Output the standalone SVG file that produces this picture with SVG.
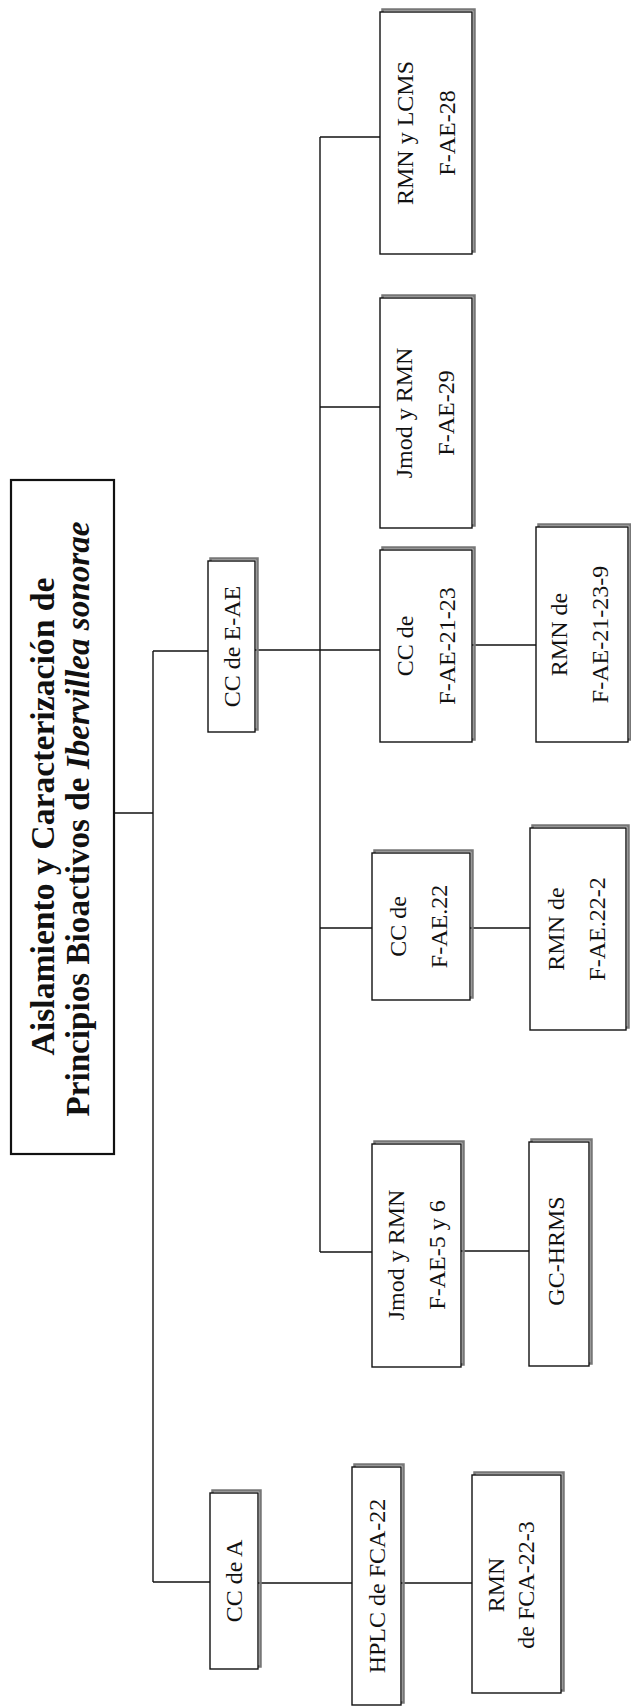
<svg xmlns="http://www.w3.org/2000/svg" width="631" height="1708" viewBox="0 0 631 1708">
<style>
.bg{fill:#fff}
.sh{fill:none;stroke:#777;stroke-width:2.5}
.bx{fill:#fff;stroke:#111;stroke-width:1.4}
.tb{fill:#fff;stroke:#111;stroke-width:2.2}
.ln{fill:none;stroke:#111;stroke-width:1.4}
.t{font-family:"Liberation Serif","Times New Roman",serif;font-size:24px;fill:#111;text-anchor:middle}
.tt{font-family:"Liberation Serif","Times New Roman",serif;font-size:33.5px;font-weight:bold;fill:#111;text-anchor:middle}
</style>
<rect class="bg" x="0" y="0" width="631" height="1708"/>
<g id="connectors">
<path class="ln" d="M113,813 H153"/>
<path class="ln" d="M153,651 V1582"/>
<path class="ln" d="M153,651 H208"/>
<path class="ln" d="M153,1582 H210"/>
<path class="ln" d="M255,650 H380"/>
<path class="ln" d="M320,137 V1252"/>
<path class="ln" d="M320,137 H380"/>
<path class="ln" d="M320,407 H380"/>
<path class="ln" d="M320,928 H372"/>
<path class="ln" d="M320,1252 H372"/>
<path class="ln" d="M472,645 H536"/>
<path class="ln" d="M470,928 H530"/>
<path class="ln" d="M461,1251 H529"/>
<path class="ln" d="M258,1583 H352"/>
<path class="ln" d="M401,1583 H472"/>
</g>
<g id="title">
<rect class="tb" x="11" y="480" width="103" height="674"/>
<text class="tt" transform="translate(53.5,816.5) rotate(-90)" textLength="478" lengthAdjust="spacingAndGlyphs">Aislamiento y Caracterización de</text>
<text class="tt" transform="translate(89,819) rotate(-90)" textLength="595" lengthAdjust="spacingAndGlyphs">Principios Bioactivos de <tspan font-style="italic">Ibervillea sonorae</tspan></text>
</g>
<g id="cc-eae">
<rect class="sh" x="210.5" y="558.5" width="47" height="171"/>
<rect class="bx" x="208" y="561" width="47" height="171"/>
<text class="t" transform="translate(239.5,646.5) rotate(-90)">CC de E-AE</text>
</g>
<g id="cc-a">
<rect class="sh" x="212.5" y="1490.5" width="48" height="176"/>
<rect class="bx" x="210" y="1493" width="48" height="176"/>
<text class="t" transform="translate(242,1581) rotate(-90)">CC de A</text>
</g>
<g id="hplc">
<rect class="sh" x="354.5" y="1464.5" width="49" height="238"/>
<rect class="bx" x="352" y="1467" width="49" height="238"/>
<text class="t" transform="translate(384.5,1586) rotate(-90)">HPLC de FCA-22</text>
</g>
<g id="rmn-fca">
<rect class="sh" x="474.5" y="1472.5" width="89" height="218"/>
<rect class="bx" x="472" y="1475" width="89" height="218"/>
<text class="t" transform="translate(504,1585) rotate(-90)">RMN</text>
<text class="t" transform="translate(534,1585) rotate(-90)">de FCA-22-3</text>
</g>
<g id="rmn-lcms">
<rect class="sh" x="382.5" y="9.5" width="92" height="242"/>
<rect class="bx" x="380" y="12" width="92" height="242"/>
<text class="t" transform="translate(413,133) rotate(-90)">RMN y LCMS</text>
<text class="t" transform="translate(455,133) rotate(-90)">F-AE-28</text>
</g>
<g id="jmod-29">
<rect class="sh" x="382.5" y="295.5" width="92" height="230"/>
<rect class="bx" x="380" y="298" width="92" height="230"/>
<text class="t" transform="translate(412,413) rotate(-90)">Jmod y RMN</text>
<text class="t" transform="translate(454,413) rotate(-90)">F-AE-29</text>
</g>
<g id="cc-21-23">
<rect class="sh" x="382.5" y="547.5" width="92" height="192"/>
<rect class="bx" x="380" y="550" width="92" height="192"/>
<text class="t" transform="translate(413,646) rotate(-90)">CC de</text>
<text class="t" transform="translate(455,646) rotate(-90)">F-AE-21-23</text>
</g>
<g id="rmn-21-23-9">
<rect class="sh" x="538.5" y="524.5" width="92" height="215"/>
<rect class="bx" x="536" y="527" width="92" height="215"/>
<text class="t" transform="translate(567,634.5) rotate(-90)">RMN de</text>
<text class="t" transform="translate(608,634.5) rotate(-90)">F-AE-21-23-9</text>
</g>
<g id="cc-22">
<rect class="sh" x="374.5" y="850.5" width="98" height="147"/>
<rect class="bx" x="372" y="853" width="98" height="147"/>
<text class="t" transform="translate(406,926.5) rotate(-90)">CC de</text>
<text class="t" transform="translate(447,926.5) rotate(-90)">F-AE.22</text>
</g>
<g id="rmn-22-2">
<rect class="sh" x="532.5" y="825.5" width="96" height="202"/>
<rect class="bx" x="530" y="828" width="96" height="202"/>
<text class="t" transform="translate(564,929) rotate(-90)">RMN de</text>
<text class="t" transform="translate(605,929) rotate(-90)">F-AE.22-2</text>
</g>
<g id="jmod-5-6">
<rect class="sh" x="374.5" y="1141.5" width="89" height="223"/>
<rect class="bx" x="372" y="1144" width="89" height="223"/>
<text class="t" transform="translate(404,1255) rotate(-90)">Jmod y RMN</text>
<text class="t" transform="translate(445,1255) rotate(-90)">F-AE-5 y 6</text>
</g>
<g id="gc-hrms">
<rect class="sh" x="531.5" y="1139.5" width="60" height="224"/>
<rect class="bx" x="529" y="1142" width="60" height="224"/>
<text class="t" transform="translate(564,1251) rotate(-90)">GC-HRMS</text>
</g>
</svg>
